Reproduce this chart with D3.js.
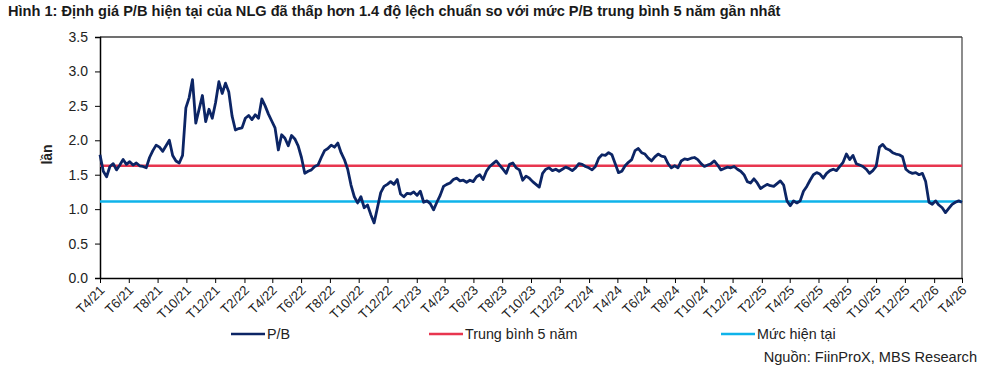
<!DOCTYPE html>
<html>
<head>
<meta charset="utf-8">
<script src="https://cdn.jsdelivr.net/npm/d3@7"></script>
<style>
  html, body { margin: 0; padding: 0; background: #ffffff; }
  svg { display: block; font-family: "Liberation Sans", Arial, sans-serif; }
</style>
</head>
<body>
<svg id="chart" width="998" height="379"></svg>
<script>
// ---- data ----
const titleText = "Hình 1: Định giá P/B hiện tại của NLG đã thấp hơn 1.4 độ lệch chuẩn so với mức P/B trung bình 5 năm gần nhất";
const sourceText = "Nguồn: FiinProX, MBS Research";
const yLabel = "lần";
const seriesNames = ["P/B", "Trung bình 5 năm", "Mức hiện tại"];
const periodStart = "2021-04-01";
const periodEnd = "2026-04-01";
const yTicks = [0.0, 0.5, 1.0, 1.5, 2.0, 2.5, 3.0, 3.5];
const avg5y = 1.63;
const currentLevel = 1.11;
// weekly P/B values, Apr 2021 -> Apr 2026
const pbValues = [
  1.79,1.55,1.47,1.62,1.66,1.57,1.64,1.72,1.65,1.69,
  1.64,1.67,1.63,1.62,1.60,1.75,1.85,1.93,1.90,1.84,
  1.92,2.00,1.78,1.70,1.67,1.78,2.47,2.62,2.88,2.25,
  2.45,2.65,2.27,2.45,2.32,2.55,2.85,2.68,2.83,2.70,
  2.35,2.15,2.17,2.18,2.32,2.36,2.30,2.37,2.32,2.60,
  2.50,2.38,2.28,2.18,1.86,2.08,2.03,1.92,2.07,2.02,
  1.92,1.75,1.52,1.55,1.57,1.62,1.64,1.75,1.85,1.88,
  1.93,1.90,1.96,1.82,1.72,1.58,1.35,1.18,1.09,1.18,
  1.02,1.06,0.92,0.80,1.02,1.24,1.33,1.36,1.40,1.36,
  1.43,1.22,1.18,1.23,1.22,1.25,1.20,1.26,1.10,1.12,
  1.08,0.99,1.10,1.20,1.33,1.36,1.38,1.43,1.45,1.41,
  1.42,1.39,1.42,1.40,1.47,1.50,1.43,1.55,1.62,1.66,
  1.70,1.64,1.58,1.52,1.65,1.67,1.60,1.57,1.42,1.48,
  1.45,1.40,1.36,1.32,1.52,1.58,1.60,1.56,1.58,1.55,
  1.58,1.61,1.59,1.56,1.60,1.66,1.65,1.62,1.60,1.57,
  1.62,1.74,1.79,1.78,1.82,1.79,1.66,1.53,1.55,1.63,
  1.68,1.72,1.85,1.88,1.82,1.80,1.74,1.70,1.76,1.80,
  1.77,1.76,1.66,1.60,1.63,1.60,1.70,1.73,1.72,1.74,
  1.75,1.72,1.66,1.62,1.64,1.66,1.70,1.64,1.57,1.59,
  1.61,1.60,1.62,1.58,1.55,1.50,1.40,1.38,1.44,1.38,
  1.30,1.33,1.36,1.34,1.33,1.37,1.41,1.35,1.12,1.05,
  1.12,1.09,1.12,1.26,1.33,1.42,1.50,1.53,1.51,1.45,
  1.52,1.56,1.58,1.56,1.62,1.68,1.80,1.72,1.78,1.66,
  1.64,1.62,1.58,1.52,1.56,1.62,1.90,1.94,1.88,1.86,
  1.82,1.80,1.79,1.76,1.58,1.54,1.52,1.53,1.50,1.52,
  1.40,1.10,1.07,1.12,1.06,1.02,0.95,1.01,1.07,1.10,
  1.12,1.10
];

// ---- layout ----
const svg = d3.select("#chart");
const W = 998, H = 379;
const m = { left: 100, right: 36, top: 37, bottom: 101 };
const x0 = m.left, x1 = W - m.right, y0 = H - m.bottom, y1 = m.top;
const FONT = "'Liberation Sans', Arial, sans-serif";

const parse = d3.timeParse("%Y-%m-%d");
const dStart = parse(periodStart), dEnd = parse(periodEnd);
const step = (dEnd - dStart) / (pbValues.length - 1);
const data = pbValues.map((v, i) => ({ date: new Date(+dStart + i * step), value: v }));

const x = d3.scaleTime().domain([dStart, dEnd]).range([x0, x1]);
const y = d3.scaleLinear().domain([0, 3.5]).range([y0, y1]);

const navy = "#0c2565", red = "#e8364f", blue = "#0fb3ea";

// title
svg.append("text").attr("x", 8).attr("y", 16)
  .attr("font-size", 14.6).attr("font-weight", "bold").attr("fill", "#1a1a1a")
  .text(titleText);

// plot frame (top and right)
svg.append("line").attr("x1", x0).attr("x2", x1).attr("y1", y1).attr("y2", y1)
  .attr("stroke", "#404040").attr("stroke-width", 1.5);
svg.append("line").attr("x1", x1).attr("x2", x1).attr("y1", y1).attr("y2", y0)
  .attr("stroke", "#404040").attr("stroke-width", 1.2);

// y axis
const yAxis = svg.append("g").attr("transform", `translate(${x0},0)`)
  .call(d3.axisLeft(y).tickValues(yTicks).tickFormat(d3.format(".1f")).tickSize(5).tickPadding(7));
yAxis.select(".domain").attr("stroke", "#000").attr("stroke-width", 1.5);
yAxis.selectAll(".tick line").attr("stroke", "#000");
yAxis.selectAll("text").attr("font-size", 14).attr("fill", "#222").attr("font-family", FONT);

// x axis
const xTicks = d3.timeMonth.range(dStart, d3.timeDay.offset(dEnd, 1), 2);
const fmtT = d => "T" + (d.getMonth() + 1) + "/" + String(d.getFullYear()).slice(2);
const xAxis = svg.append("g").attr("transform", `translate(0,${y0})`)
  .call(d3.axisBottom(x).tickValues(xTicks).tickFormat(fmtT).tickSize(5).tickSizeOuter(0));
xAxis.select(".domain").attr("stroke", "#000").attr("stroke-width", 1.5);
xAxis.selectAll(".tick line").attr("stroke", "#000");
xAxis.selectAll("text")
  .attr("font-size", 13.2).attr("fill", "#222").attr("font-family", FONT)
  .attr("text-anchor", "end")
  .attr("dy", null).attr("y", 0)
  .attr("transform", "translate(5,13) rotate(-45)");

// y label
svg.append("text")
  .attr("transform", `translate(52,${(y0 + y1) / 2 - 3}) rotate(-90)`)
  .attr("text-anchor", "middle").attr("font-size", 14).attr("font-weight", "bold").attr("fill", "#222")
  .text(yLabel);

// reference lines
svg.append("line").attr("x1", x0).attr("x2", x1)
  .attr("y1", y(avg5y)).attr("y2", y(avg5y))
  .attr("stroke", red).attr("stroke-width", 2.6);
svg.append("line").attr("x1", x0).attr("x2", x1)
  .attr("y1", y(currentLevel)).attr("y2", y(currentLevel))
  .attr("stroke", blue).attr("stroke-width", 2.6);

// P/B line
svg.append("path").datum(data)
  .attr("fill", "none").attr("stroke", navy).attr("stroke-width", 2.8)
  .attr("stroke-linejoin", "round")
  .attr("d", d3.line().x(d => x(d.date)).y(d => y(d.value)));

// legend
const legendItems = [
  { name: seriesNames[0], color: navy, x: 231 },
  { name: seriesNames[1], color: red, x: 429 },
  { name: seriesNames[2], color: blue, x: 721 }
];
const lg = svg.append("g");
legendItems.forEach(it => {
  lg.append("line").attr("x1", it.x).attr("x2", it.x + 34).attr("y1", 334).attr("y2", 334)
    .attr("stroke", it.color).attr("stroke-width", 2.6);
  lg.append("text").attr("x", it.x + 36).attr("y", 339)
    .attr("font-size", 14.3).attr("fill", "#222").text(it.name);
});

// source
svg.append("text").attr("x", 977).attr("y", 362).attr("text-anchor", "end")
  .attr("font-size", 14.6).attr("fill", "#222").text(sourceText);
</script>
</body>
</html>
